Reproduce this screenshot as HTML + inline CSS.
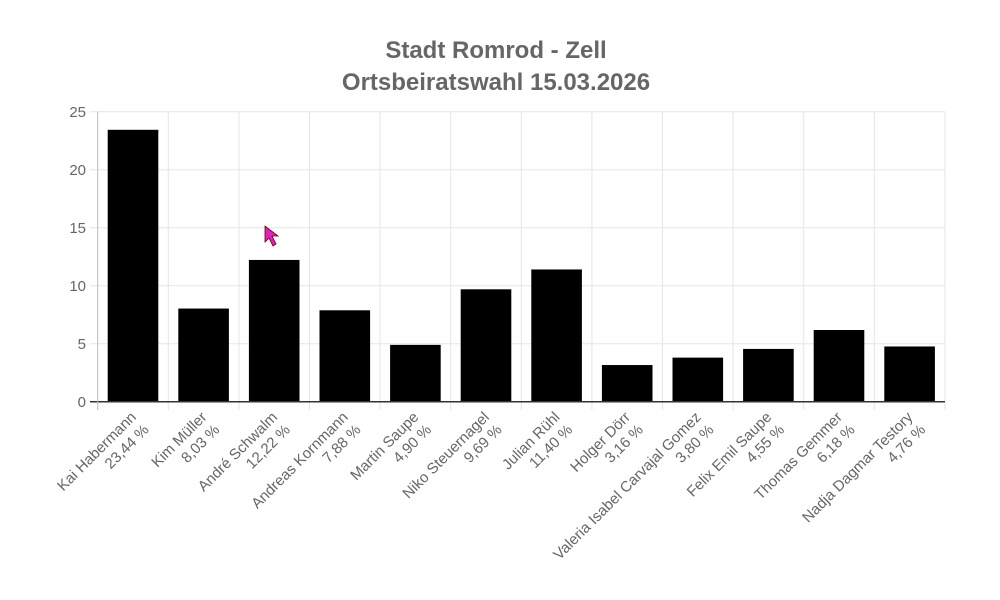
<!DOCTYPE html>
<html><head><meta charset="utf-8"><style>
html,body{margin:0;padding:0;background:#fff;}
svg{display:block;font-family:"Liberation Sans",Arial,sans-serif;}
</style></head><body>
<svg width="1000" height="600" viewBox="0 0 1000 600">
<text x="496" y="58" text-anchor="middle" font-size="24" font-weight="bold" fill="#666">Stadt Romrod - Zell</text>
<text x="496" y="90" text-anchor="middle" font-size="24" font-weight="bold" fill="#666">Ortsbeiratswahl 15.03.2026</text>
<g stroke="#e5e5e5" stroke-width="1">
<line x1="90" y1="111.7" x2="945" y2="111.7"/>
<line x1="90" y1="169.7" x2="945" y2="169.7"/>
<line x1="90" y1="227.7" x2="945" y2="227.7"/>
<line x1="90" y1="285.7" x2="945" y2="285.7"/>
<line x1="90" y1="343.7" x2="945" y2="343.7"/>
</g>
<g id="vg" stroke="#e5e5e5" stroke-width="1"></g>
<g id="bars"></g>
<line x1="90" y1="401.7" x2="945" y2="401.7" stroke="#333" stroke-width="1.5"/>
<line x1="97.7" y1="111.7" x2="97.7" y2="410" stroke="#bbb" stroke-width="1"/>
<g font-size="15" fill="#666" text-anchor="end">
<text x="86" y="117">25</text>
<text x="86" y="175">20</text>
<text x="86" y="233">15</text>
<text x="86" y="291">10</text>
<text x="86" y="349">5</text>
<text x="86" y="407">0</text>
</g>
<g id="labels" font-size="15" fill="#666" text-anchor="end"></g>
<path d="M265,226 L265,242 L269,238 L273,246 L276,244 L272,236 L278,236 Z" fill="#e020c0" stroke="#600" stroke-width="0.8"/>
</svg>
<script>
var names=["Kai Habermann","Kim Müller","André Schwalm","Andreas Kornmann","Martin Saupe","Niko Steuernagel","Julian Rühl","Holger Dörr","Valeria Isabel Carvajal Gomez","Felix Emil Saupe","Thomas Gemmer","Nadja Dagmar Testory"];
var vals=[23.44,8.03,12.22,7.88,4.90,9.69,11.40,3.16,3.80,4.55,6.18,4.76];
var ns="http://www.w3.org/2000/svg",x0=97.7,w=70.6,y0=401.7,k=11.6;
var vg=document.getElementById("vg"),bg=document.getElementById("bars"),lg=document.getElementById("labels");
for(var i=0;i<12;i++){
 var gx=x0+(i+1)*w;
 var l=document.createElementNS(ns,"line");l.setAttribute("x1",gx);l.setAttribute("x2",gx);l.setAttribute("y1",111.7);l.setAttribute("y2",410);vg.appendChild(l);
 var r=document.createElementNS(ns,"rect");var h=vals[i]*k;
 r.setAttribute("x",x0+i*w+10);r.setAttribute("width",50.6);r.setAttribute("y",y0-h);r.setAttribute("height",h);r.setAttribute("fill","#000");bg.appendChild(r);
 var cx=x0+i*w+w/2;
 var g=document.createElementNS(ns,"g");g.setAttribute("transform","translate("+(cx+4)+",418) rotate(-45)");
 var t1=document.createElementNS(ns,"text");t1.setAttribute("x",0);t1.setAttribute("y",0);t1.textContent=names[i];
 var pct=vals[i].toFixed(2).replace(".",",")+" %";
 var t2=document.createElementNS(ns,"text");t2.setAttribute("x",0);t2.setAttribute("y",18);t2.textContent=pct;
 g.appendChild(t1);g.appendChild(t2);lg.appendChild(g);
}
</script>
</body></html>
